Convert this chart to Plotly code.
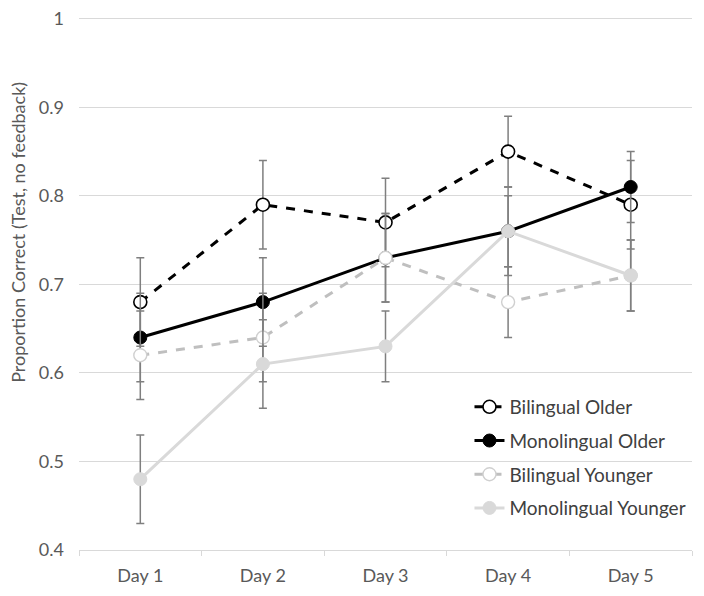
import plotly.graph_objects as go

days = ["Day 1", "Day 2", "Day 3", "Day 4", "Day 5"]

bilingual_older = [0.68, 0.79, 0.77, 0.85, 0.79]
monolingual_older = [0.64, 0.68, 0.73, 0.76, 0.81]
bilingual_younger = [0.62, 0.64, 0.73, 0.68, 0.71]
monolingual_younger = [0.48, 0.61, 0.63, 0.76, 0.71]

err_bilingual_older = [0.05, 0.05, 0.05, 0.04, 0.05]
err_monolingual_older = [0.05, 0.05, 0.05, 0.05, 0.04]
err_bilingual_younger = [0.05, 0.05, 0.05, 0.04, 0.04]
err_monolingual_younger = [0.05, 0.05, 0.04, 0.04, 0.04]

y_ticks = [0.4, 0.5, 0.6, 0.7, 0.8, 0.9, 1.0]
y_title = "Proportion Correct (Test, no feedback)"

FONT = "Lato"
TXT = "#595959"
ERR = "#7f7f7f"

series = [
    ("Bilingual Older", bilingual_older, err_bilingual_older,
     dict(color="black", width=3, dash="dash"),
     dict(size=13, color="white", line=dict(color="black", width=1.6))),
    ("Monolingual Older", monolingual_older, err_monolingual_older,
     dict(color="black", width=3),
     dict(size=13, color="black", line=dict(color="black", width=1))),
    ("Bilingual Younger", bilingual_younger, err_bilingual_younger,
     dict(color="#bfbfbf", width=3, dash="dash"),
     dict(size=13, color="white", line=dict(color="#d0d0d0", width=1.4))),
    ("Monolingual Younger", monolingual_younger, err_monolingual_younger,
     dict(color="#d9d9d9", width=3),
     dict(size=13, color="#d9d9d9", line=dict(color="#d9d9d9", width=1))),
]

fig = go.Figure()
for i, (name, vals, errs, line, marker) in enumerate(series):
    fig.add_trace(go.Scatter(
        x=days, y=vals, name=name, mode="lines+markers",
        line=line, marker=marker, legendgroup=f"g{i}",
        error_y=dict(type="data", array=errs, visible=True,
                     color=ERR, thickness=1.5, width=4),
    ))

fig.add_annotation(
    text=y_title, textangle=-90, xref="paper", yref="paper",
    x=-0.0995, y=0.595, xanchor="center", yanchor="middle",
    showarrow=False, font=dict(family=FONT, size=18, color=TXT),
)

fig.update_layout(
    width=704, height=596,
    margin=dict(l=71, r=20, t=9, b=54, autoexpand=False),
    paper_bgcolor="white", plot_bgcolor="white",
    font=dict(family=FONT, size=18, color=TXT),
    showlegend=True,
    legend=dict(
        x=0.637, y=0.304, xanchor="left", yanchor="top",
        bgcolor="rgba(0,0,0,0)", traceorder="grouped",
        tracegroupgap=6, itemwidth=30,
        font=dict(family=FONT, size=19, color="#404040"),
    ),
    xaxis=dict(
        type="category", range=[-0.5, 4.5], automargin=False,
        showline=True, linecolor="#d9d9d9", linewidth=1,
        ticks="outside", tickson="boundaries", ticklen=5, tickcolor="#d9d9d9",
        showgrid=False, tickfont=dict(size=18, color=TXT),
        ticklabelstandoff=9,
    ),
    yaxis=dict(
        range=[0.4, 1.002], tickvals=y_ticks, automargin=False,
        ticktext=[("1" if v == 1.0 else f"{v:.1f}") for v in y_ticks],
        showgrid=True, gridcolor="#d9d9d9", gridwidth=1,
        zeroline=False, showline=False, ticks="",
        ticklabelstandoff=14, ticklabeloverflow="allow",
        tickfont=dict(size=18, color=TXT),
    ),
)

fig.write_html("out.html")
